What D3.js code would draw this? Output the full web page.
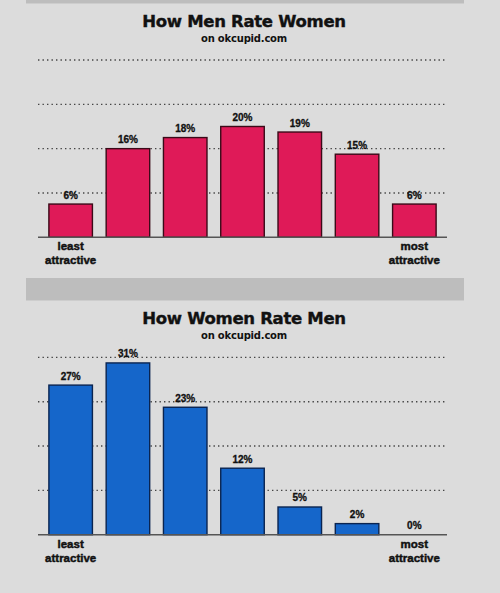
<!DOCTYPE html>
<html>
<head>
<meta charset="utf-8">
<script src="https://cdn.jsdelivr.net/npm/d3@7"></script>
<style>
  html, body { margin: 0; padding: 0; background: #dcdcdc; }
  svg { display: block; }
</style>
</head>
<body>
<svg id="chart" width="500" height="593"></svg>
<script>
// data
const categories = ["1", "2", "3", "4", "5", "6", "7"];
const menRateWomen = [6, 16, 18, 20, 19, 15, 6];
const womenRateMen = [27, 31, 23, 12, 5, 2, 0];
const gridTicks = [8, 16, 24, 32];
const axisEnds = [["least", "attractive"], ["most", "attractive"]];

const svg = d3.select("#chart");
const W = 500, H = 593;

svg.append("rect").attr("width", W).attr("height", H).attr("fill", "#dcdcdc");

// grey separator bands
svg.append("rect").attr("x", 26).attr("y", 0).attr("width", 438).attr("height", 3.5).attr("fill", "#bdbdbd");
svg.append("rect").attr("x", 26).attr("y", 278).attr("width", 438).attr("height", 22.5).attr("fill", "#bdbdbd");

const x = d3.scaleBand()
  .domain(categories)
  .range([38, 447])
  .paddingInner(0.24)
  .paddingOuter(0.19);

function drawPanel(opts) {
  const g = svg.append("g");

  const y = d3.scaleLinear()
    .domain([0, 32])
    .range([opts.base, opts.base - 177.3]);

  // title
  g.append("text")
    .attr("x", 244)
    .attr("y", opts.titleY)
    .attr("text-anchor", "middle")
    .style("font-family", "DejaVu Sans")
    .style("font-weight", "bold")
    .style("font-size", "16.5px")
    .style("letter-spacing", "-0.3px")
    .style("fill", "#111")
    .style("stroke", "#111")
    .style("stroke-width", 0.4)
    .text(opts.title);

  g.append("text")
    .attr("x", 244)
    .attr("y", opts.titleY + 14.5)
    .attr("text-anchor", "middle")
    .style("font-family", "DejaVu Sans")
    .style("font-weight", "bold")
    .style("font-size", "10px")
    .style("letter-spacing", "-0.2px")
    .style("fill", "#111")
    .text("on okcupid.com");

  // dotted grid
  g.selectAll(".grid")
    .data(gridTicks)
    .enter()
    .append("line")
    .attr("x1", 38)
    .attr("x2", 447)
    .attr("y1", d => y(d))
    .attr("y2", d => y(d))
    .attr("stroke", "#444")
    .attr("stroke-width", 1.4)
    .attr("stroke-dasharray", "1.4,3.1");

  // bars
  g.selectAll(".bar")
    .data(opts.values.map((v, i) => ({ cat: categories[i], v })).filter(d => d.v > 0))
    .enter()
    .append("rect")
    .attr("x", d => x(d.cat))
    .attr("y", d => y(d.v))
    .attr("width", x.bandwidth())
    .attr("height", d => y(0) - y(d.v))
    .attr("fill", opts.fill)
    .attr("stroke", opts.stroke)
    .attr("stroke-width", 1.4);

  // baseline
  g.append("line")
    .attr("x1", 38)
    .attr("x2", 447)
    .attr("y1", y(0))
    .attr("y2", y(0))
    .attr("stroke", "#555")
    .attr("stroke-width", 1.5);

  // value labels
  g.selectAll(".val")
    .data(opts.values.map((v, i) => ({ cat: categories[i], v })))
    .enter()
    .append("text")
    .attr("x", d => x(d.cat) + x.bandwidth() / 2)
    .attr("y", d => y(d.v) - 5.5)
    .attr("text-anchor", "middle")
    .style("font-family", "Liberation Sans")
    .style("font-weight", "bold")
    .style("font-size", "10px")
    .style("fill", "#111")
    .style("stroke", "#111")
    .style("stroke-width", 0.3)
    .text(d => d.v + "%");

  // end labels
  [categories[0], categories[categories.length - 1]].forEach((c, i) => {
    const t = g.append("text")
      .attr("x", x(c) + x.bandwidth() / 2)
      .attr("y", y(0) + 13)
      .attr("text-anchor", "middle")
      .style("font-family", "Liberation Sans")
      .style("font-weight", "bold")
      .style("font-size", "11.5px")
      .style("fill", "#111")
      .style("stroke", "#111")
      .style("stroke-width", 0.45);
    axisEnds[i].forEach((line, j) => {
      t.append("tspan")
        .attr("x", x(c) + x.bandwidth() / 2)
        .attr("dy", j === 0 ? 0 : 13.8)
        .text(line);
    });
  });
}

drawPanel({
  title: "How Men Rate Women",
  titleY: 27,
  base: 237.3,
  values: menRateWomen,
  fill: "#df1a58",
  stroke: "#3a0a18"
});

drawPanel({
  title: "How Women Rate Men",
  titleY: 324,
  base: 534.7,
  values: womenRateMen,
  fill: "#1566ca",
  stroke: "#0a2450"
});
</script>
</body>
</html>
